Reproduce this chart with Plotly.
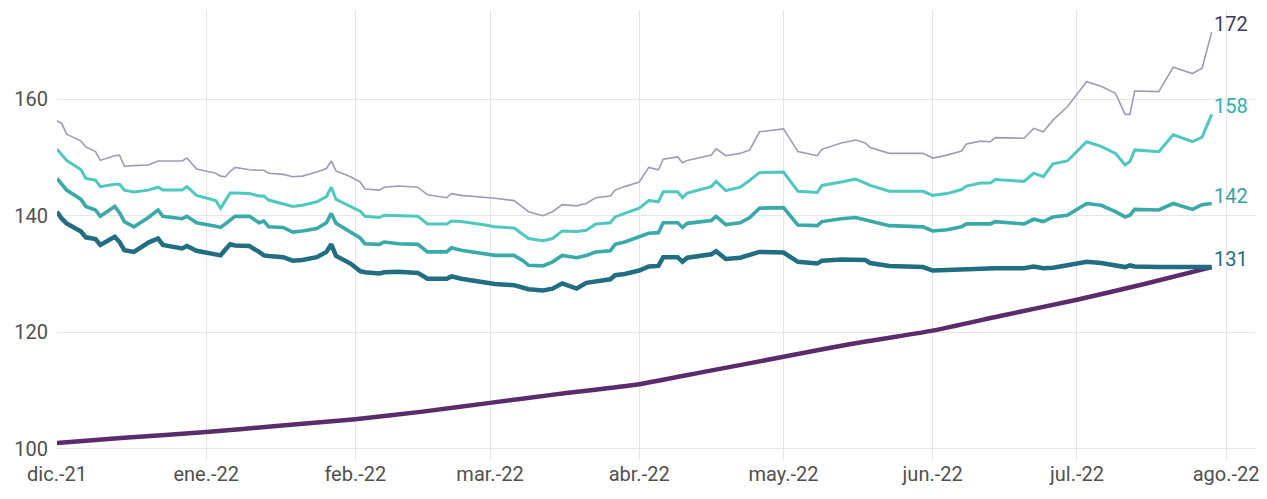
import plotly.graph_objects as go

# ---- data ----
dates = [
    "2021-12-01", "2021-12-02", "2021-12-03", "2021-12-06", "2021-12-07", "2021-12-09", "2021-12-10",
    "2021-12-13", "2021-12-14", "2021-12-15", "2021-12-17", "2021-12-20", "2021-12-22", "2021-12-23",
    "2021-12-27", "2021-12-28", "2021-12-30", "2022-01-03", "2022-01-04", "2022-01-05", "2022-01-06",
    "2022-01-07", "2022-01-10", "2022-01-12", "2022-01-13", "2022-01-14", "2022-01-17", "2022-01-19",
    "2022-01-21", "2022-01-24", "2022-01-26", "2022-01-27", "2022-01-28", "2022-01-31", "2022-02-02",
    "2022-02-03", "2022-02-06", "2022-02-07", "2022-02-10", "2022-02-14", "2022-02-16", "2022-02-20",
    "2022-02-21", "2022-02-23", "2022-02-28", "2022-03-02", "2022-03-06", "2022-03-08", "2022-03-09",
    "2022-03-12", "2022-03-14", "2022-03-16", "2022-03-19", "2022-03-21", "2022-03-23", "2022-03-26",
    "2022-03-27", "2022-03-29", "2022-04-01", "2022-04-03", "2022-04-05", "2022-04-06", "2022-04-09",
    "2022-04-10", "2022-04-11", "2022-04-16", "2022-04-17", "2022-04-19", "2022-04-22", "2022-04-24",
    "2022-04-26", "2022-05-01", "2022-05-04", "2022-05-08", "2022-05-09", "2022-05-13", "2022-05-16",
    "2022-05-18", "2022-05-19", "2022-05-23", "2022-05-30", "2022-06-01", "2022-06-04", "2022-06-07",
    "2022-06-08", "2022-06-11", "2022-06-13", "2022-06-14", "2022-06-20", "2022-06-22", "2022-06-24",
    "2022-06-26", "2022-06-29", "2022-07-03", "2022-07-06", "2022-07-09", "2022-07-11", "2022-07-12",
    "2022-07-13", "2022-07-18", "2022-07-21", "2022-07-25", "2022-07-27", "2022-07-29",
]

gray_vals = [
    156.3, 155.8, 154.0, 152.8, 151.8, 151.0, 149.5, 150.3, 150.4, 148.5, 148.6, 148.7, 149.4, 149.4,
    149.4, 149.9, 148.0, 147.3, 146.8, 146.7, 147.6, 148.3, 147.9, 147.8, 147.8, 147.3, 147.1, 146.7,
    146.8, 147.5, 148.1, 149.4, 147.7, 146.7, 145.8, 144.6, 144.4, 144.9, 145.1, 144.9, 143.6, 143.1,
    143.8, 143.5, 143.2, 143.0, 142.6, 141.3, 140.7, 140.0, 140.7, 141.9, 141.7, 142.1, 143.1, 143.4,
    144.4, 145.0, 145.8, 148.3, 147.9, 149.7, 150.1, 149.1, 149.5, 150.4, 151.5, 150.3, 150.7, 151.3,
    154.4, 154.9, 151.0, 150.3, 151.4, 152.5, 153.0, 152.5, 151.7, 150.7, 150.7, 149.9, 150.4, 151.1,
    152.3, 152.8, 152.7, 153.4, 153.3, 155.0, 154.4, 156.4, 158.7, 163.0, 162.2, 161.0, 157.4, 157.4,
    161.4, 161.3, 165.5, 164.4, 165.3, 171.5,
]

light_vals = [
    151.4, 150.5, 149.5, 147.9, 146.4, 146.1, 145.0, 145.4, 145.4, 144.4, 144.1, 144.4, 144.9, 144.4,
    144.4, 145.0, 143.5, 142.6, 141.3, 142.6, 143.9, 143.9, 143.8, 143.4, 143.4, 142.7, 142.1, 141.6,
    141.8, 142.4, 143.3, 144.9, 142.8, 141.6, 140.8, 139.9, 139.7, 140.1, 140.0, 139.9, 138.6, 138.6,
    139.1, 139.0, 138.4, 138.1, 137.9, 136.8, 136.1, 135.7, 136.1, 137.4, 137.3, 137.5, 138.6, 138.8,
    139.8, 140.4, 141.3, 142.6, 142.4, 144.1, 144.1, 143.1, 143.9, 145.0, 145.9, 144.3, 144.9, 146.1,
    147.4, 147.5, 144.2, 144.0, 145.2, 145.8, 146.3, 145.6, 145.2, 144.2, 144.2, 143.5, 143.8, 144.5,
    145.1, 145.6, 145.6, 146.2, 145.9, 147.3, 146.7, 148.9, 149.4, 152.7, 151.9, 150.7, 148.7, 149.3,
    151.3, 151.0, 153.9, 152.7, 153.5, 157.4,
]

medium_vals = [
    146.4, 145.5, 144.4, 142.8, 141.6, 141.0, 139.9, 141.6, 140.5, 139.0, 138.1, 139.7, 141.0, 139.9,
    139.5, 139.9, 138.8, 138.2, 138.0, 138.6, 139.2, 139.9, 139.9, 138.8, 139.1, 138.1, 138.0, 137.2,
    137.4, 137.8, 138.8, 140.4, 138.7, 137.2, 136.2, 135.2, 135.1, 135.5, 135.2, 135.1, 133.8, 133.8,
    134.5, 134.1, 133.5, 133.2, 133.2, 132.2, 131.5, 131.4, 132.1, 133.2, 132.8, 133.2, 133.8, 134.0,
    135.1, 135.5, 136.4, 137.0, 137.1, 138.8, 138.8, 138.0, 138.7, 139.2, 139.9, 138.5, 138.8, 139.7,
    141.3, 141.4, 138.4, 138.3, 139.0, 139.5, 139.7, 139.3, 139.0, 138.3, 138.1, 137.4, 137.6, 138.1,
    138.6, 138.6, 138.6, 139.0, 138.6, 139.4, 139.0, 139.8, 140.1, 142.1, 141.8, 140.7, 139.8, 140.1,
    141.1, 141.0, 142.1, 141.1, 141.9, 142.1,
]

dark_vals = [
    140.7, 139.5, 138.7, 137.3, 136.3, 136.0, 135.0, 136.4, 135.5, 134.1, 133.8, 135.4, 136.1, 135.0,
    134.4, 134.8, 134.0, 133.3, 133.2, 134.2, 135.1, 134.9, 134.8, 133.8, 133.2, 133.1, 132.9, 132.3,
    132.4, 132.9, 133.8, 135.1, 133.1, 131.8, 130.5, 130.3, 130.1, 130.3, 130.4, 130.2, 129.2, 129.2,
    129.6, 129.2, 128.6, 128.3, 128.1, 127.7, 127.4, 127.2, 127.5, 128.4, 127.5, 128.5, 128.8, 129.1,
    129.8, 130.0, 130.6, 131.3, 131.4, 132.9, 132.9, 132.1, 132.8, 133.4, 133.9, 132.6, 132.8, 133.4,
    133.8, 133.7, 132.1, 131.8, 132.3, 132.5, 132.5, 132.4, 131.9, 131.4, 131.2, 130.6, 130.7, 130.8,
    130.9, 131.0, 131.0, 131.0, 131.0, 131.3, 131.0, 131.1, 131.5, 132.1, 131.9, 131.5, 131.2, 131.5,
    131.3, 131.2, 131.2, 131.2, 131.2, 131.2,
]

purple_dates = [
    "2021-12-01", "2021-12-15", "2022-01-01", "2022-01-15", "2022-02-01", "2022-02-15", "2022-03-01",
    "2022-03-15", "2022-04-01", "2022-04-15", "2022-05-01", "2022-05-15", "2022-06-01", "2022-06-15",
    "2022-07-01", "2022-07-15", "2022-07-29",
]
purple_vals = [
    101.0, 101.9, 102.9, 103.9, 105.1, 106.4, 107.9, 109.4, 111.1, 113.3, 115.8, 118.0, 120.3, 122.8,
    125.6, 128.3, 131.2,
]

tick_dates = ["2021-12-01", "2022-01-01", "2022-02-01", "2022-03-01", "2022-04-01", "2022-05-01",
              "2022-06-01", "2022-07-01", "2022-08-01"]
tick_labels = ["dic.-21", "ene.-22", "feb.-22", "mar.-22", "abr.-22", "may.-22", "jun.-22",
               "jul.-22", "ago.-22"]
y_ticks = [100, 120, 140, 160]

end_labels = ["172", "158", "142", "131"]

# ---- figure ----
fig = go.Figure()
fig.add_trace(go.Scatter(x=purple_dates, y=purple_vals, mode="lines",
                         line=dict(color="#5a2c6b", width=4.5, shape="spline", smoothing=0.6),
                         hoverinfo="skip"))
fig.add_trace(go.Scatter(x=dates, y=gray_vals, mode="lines",
                         line=dict(color="#9f9ab6", width=1.6), hoverinfo="skip"))
fig.add_trace(go.Scatter(x=dates, y=light_vals, mode="lines",
                         line=dict(color="#4ec8c0", width=3), hoverinfo="skip"))
fig.add_trace(go.Scatter(x=dates, y=medium_vals, mode="lines",
                         line=dict(color="#3aa9aa", width=3.6), hoverinfo="skip"))
fig.add_trace(go.Scatter(x=dates, y=dark_vals, mode="lines",
                         line=dict(color="#216d82", width=4.5), hoverinfo="skip"))

label_colors = ["#3e3a5e", "#2db3ab", "#34a2a2", "#236d82"]
series_ends = [gray_vals[-1], light_vals[-1], medium_vals[-1], dark_vals[-1]]
for txt, yv, col in zip(end_labels, series_ends, label_colors):
    fig.add_annotation(x=dates[-1], y=yv, text=txt, showarrow=False, xanchor="left",
                       yanchor="middle", xshift=0, yshift=8,
                       font=dict(family="Roboto", size=20, color=col))

fig.update_layout(
    width=1259, height=491,
    margin=dict(l=49, r=12, t=2, b=39, autoexpand=False),
    plot_bgcolor="white", paper_bgcolor="white",
    showlegend=False,
    font=dict(family="Roboto", size=20, color="#505050"),
)
fig.update_xaxes(
    range=["2021-12-01", "2022-08-07"],
    tickvals=tick_dates, ticktext=tick_labels,
    showgrid=True, gridcolor="#e6e6e6", gridwidth=1,
    zeroline=False, showline=False, ticks="", automargin=False,
)
fig.update_yaxes(
    range=[98.1, 175.3],
    tickvals=y_ticks,
    showgrid=True, gridcolor="#e6e6e6", gridwidth=1,
    zeroline=False, showline=False, ticks="", automargin=False,
    ticklabelstandoff=8,
)

fig.write_html("out.html")
